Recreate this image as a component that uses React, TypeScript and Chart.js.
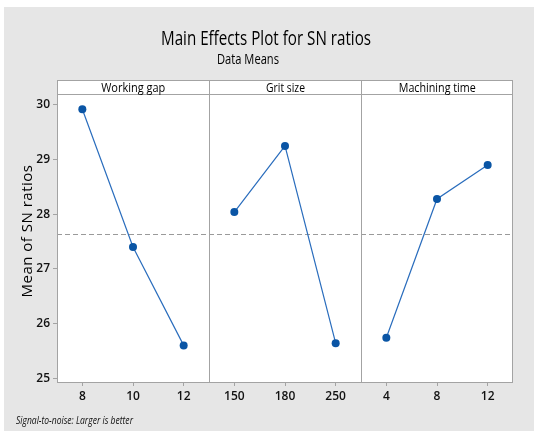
import React, { useEffect, useRef } from "react";
import { Chart, registerables } from "chart.js";

Chart.register(...registerables);

const factors = ["Working gap", "Grit size", "Machining time"];
const levelLabels = ["8", "10", "12", "150", "180", "250", "4", "8", "12"];
const workingGap = [29.92, 27.4, 25.6];
const gritSize = [28.04, 29.25, 25.64];
const machiningTime = [25.74, 28.28, 28.9];
const yTicks = [25, 26, 27, 28, 29, 30];

const POINT = "#0a55a5";
const LINE = "#2a6dbd";
const BORDER = "#a3a3a3";
const BG = "#e6e6e6";

function pad(values: number[], before: number, total: number): (number | null)[] {
  const out: (number | null)[] = [];
  for (let i = 0; i < total; i++) {
    const j = i - before;
    out.push(j >= 0 && j < values.length ? values[j] : null);
  }
  return out;
}

function fitText(
  ctx: CanvasRenderingContext2D,
  text: string,
  x: number,
  y: number,
  font: string,
  width: number,
  align: "center" | "left"
) {
  ctx.save();
  ctx.font = font;
  ctx.textBaseline = "middle";
  ctx.textAlign = "left";
  const w = ctx.measureText(text).width;
  const s = width / w;
  const left = align === "center" ? x - width / 2 : x;
  ctx.translate(left, y);
  ctx.scale(s, 1);
  ctx.fillText(text, 0, 0);
  ctx.restore();
}

export default function App() {
  const ref = useRef<HTMLCanvasElement | null>(null);

  useEffect(() => {
    if (!ref.current) return;
    const all = [...workingGap, ...gritSize, ...machiningTime];
    const grandMean = all.reduce((a, b) => a + b, 0) / all.length;

    const decor = {
      id: "decor",
      beforeDraw(chart: any) {
        const { ctx, chartArea: a } = chart;
        ctx.save();
        ctx.fillStyle = "#ffffff";
        ctx.fillRect(0, 0, chart.width, chart.height);
        ctx.fillStyle = BG;
        ctx.fillRect(4, 7, 530, 424);
        ctx.fillStyle = "#ffffff";
        ctx.fillRect(a.left, 80, a.right - a.left, a.bottom - 80);
        ctx.fillStyle = "#000";
        fitText(ctx, "Main Effects Plot for SN ratios", 266, 39, "500 20px 'Open Sans'", 210, "center");
        fitText(ctx, "Data Means", 248, 60, "500 14px 'Open Sans'", 62, "center");
        ctx.fillStyle = "#111";
        fitText(ctx, "Signal-to-noise: Larger is better", 16, 421, "italic 11px 'Open Sans'", 117, "left");
        // y title
        ctx.save();
        ctx.translate(28, 231);
        ctx.rotate(-Math.PI / 2);
        ctx.fillStyle = "#000";
        ctx.font = "500 15px 'Open Sans'";
        ctx.textAlign = "center";
        ctx.textBaseline = "middle";
        (ctx as any).letterSpacing = "0.5px";
        ctx.fillText("Mean of SN ratios", 0, 0);
        ctx.restore();
        ctx.restore();
      },
      beforeDatasetsDraw(chart: any) {
        const { ctx, chartArea: a, scales } = chart;
        const x = scales.x;
        const y = scales.y;
        ctx.save();
        const ym = Math.round(y.getPixelForValue(grandMean)) + 0.5;
        ctx.strokeStyle = "#9a9a9a";
        ctx.lineWidth = 1;
        ctx.setLineDash([5, 3]);
        ctx.beginPath();
        ctx.moveTo(a.left, ym);
        ctx.lineTo(a.right, ym);
        ctx.stroke();
        ctx.setLineDash([]);
        ctx.strokeStyle = BORDER;
        ctx.strokeRect(a.left + 0.5, 80.5, a.right - a.left - 1, a.bottom - 80);
        ctx.beginPath();
        ctx.moveTo(a.left, 94.5);
        ctx.lineTo(a.right, 94.5);
        const bounds = [a.left];
        for (let k = 1; k < factors.length; k++) {
          const px = Math.round((x.getPixelForValue(k * 3 - 1) + x.getPixelForValue(k * 3)) / 2) + 0.5;
          ctx.moveTo(px, 80);
          ctx.lineTo(px, a.bottom);
          bounds.push(px);
        }
        bounds.push(a.right);
        ctx.stroke();
        ctx.fillStyle = "#000";
        const widths = [64, 39, 77];
        for (let k = 0; k < factors.length; k++) {
          const cx = (bounds[k] + bounds[k + 1]) / 2;
          fitText(ctx, factors[k], cx, 88, "500 13px 'Open Sans'", widths[k], "center");
        }
        ctx.restore();
      },
    };

    const n = levelLabels.length;
    const ds = (data: number[], before: number) => ({
      data: pad(data, before, n),
      borderColor: LINE,
      borderWidth: 1.2,
      pointBackgroundColor: POINT,
      pointBorderColor: POINT,
      pointRadius: 4,
      pointBorderWidth: 0,
      spanGaps: false,
      fill: false,
      tension: 0,
    });

    const chart = new Chart(ref.current, {
      type: "line",
      data: {
        labels: levelLabels,
        datasets: [ds(workingGap, 0), ds(gritSize, 3), ds(machiningTime, 6)],
      },
      options: {
        animation: false,
        responsive: false,
        events: [],
        layout: { padding: { top: 94, right: 21, bottom: 21, left: 0 } },
        plugins: { legend: { display: false }, tooltip: { enabled: false }, title: { display: false } },
        scales: {
          x: {
            type: "category",
            offset: true,
            border: { display: false },
            grid: { drawOnChartArea: false, drawTicks: true, tickLength: 4, color: BORDER, offset: false },
            ticks: {
              color: "#111",
              padding: 3,
              maxRotation: 0,
              autoSkip: false,
              font: { family: "'Open Sans'", size: 12, weight: 600 },
            },
            afterFit(scale: any) {
              scale.height = 30;
            },
          },
          y: {
            type: "linear",
            min: 24.93,
            max: 30.2,
            border: { display: false },
            grid: { drawOnChartArea: false, drawTicks: true, tickLength: 4, color: BORDER },
            afterBuildTicks(scale: any) {
              scale.ticks = yTicks.map((v) => ({ value: v }));
            },
            ticks: {
              color: "#111",
              padding: 3,
              font: { family: "'Open Sans'", size: 12, weight: 600 },
            },
            afterFit(scale: any) {
              scale.width = 57;
            },
          },
        },
      },
      plugins: [decor],
    } as any);
    return () => chart.destroy();
  }, []);

  return (
    <div style={{ position: "fixed", left: 0, top: 0, width: 534, height: 433 }}>
      <canvas ref={ref} width={534} height={433} style={{ display: "block" }} />
    </div>
  );
}
